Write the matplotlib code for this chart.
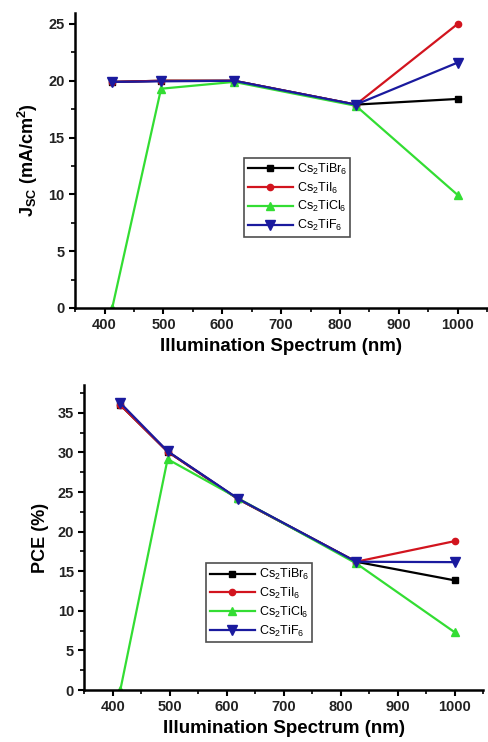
import matplotlib
matplotlib.use('Agg')
import matplotlib.pyplot as plt
from matplotlib.ticker import MultipleLocator

plt.rcParams['font.family'] = ['Liberation Sans', 'DejaVu Sans']
plt.rcParams['mathtext.fontset'] = 'custom'
plt.rcParams['mathtext.rm'] = 'Liberation Sans'
plt.rcParams['mathtext.bf'] = 'Liberation Sans:bold'

# wavelengths (nm)
wavelength = [413, 496, 620, 827, 1000]

labels = ['Cs$_2$TiBr$_6$', 'Cs$_2$TiI$_6$', 'Cs$_2$TiCl$_6$', 'Cs$_2$TiF$_6$']
colors = ['#000000', '#d2141e', '#33dd33', '#1a1a9e']
markers = ['s', 'o', '^', 'v']
msizes = [4.5, 4.5, 5.5, 6.5]

# Jsc (mA/cm2)
jsc_br = [19.9, 20.0, 20.0, 17.9, 18.4]
jsc_i = [19.9, 20.0, 20.0, 17.9, 25.0]
jsc_cl = [0.0, 19.3, 19.9, 17.8, 9.95]
jsc_f = [19.9, 19.95, 20.0, 17.9, 21.6]

# PCE (%)
pce_br = [36.0, 30.1, 24.1, 16.2, 13.85]
pce_i = [36.0, 30.1, 24.1, 16.2, 18.8]
pce_cl = [0.0, 29.15, 24.2, 16.0, 7.3]
pce_f = [36.25, 30.15, 24.15, 16.2, 16.15]

fig = plt.figure(figsize=(4.88, 7.42), dpi=100)
ax1 = fig.add_axes([0.154, 0.585, 0.844, 0.398])
ax2 = fig.add_axes([0.173, 0.070, 0.817, 0.411])


def style(ax, ylim, ylabel, leg_anchor):
    ax.set_xlim(350, 1050)
    ax.set_ylim(*ylim)
    ax.xaxis.set_major_locator(MultipleLocator(100))
    ax.xaxis.set_minor_locator(MultipleLocator(50))
    ax.yaxis.set_major_locator(MultipleLocator(5))
    ax.yaxis.set_minor_locator(MultipleLocator(2.5))
    for s in ['top', 'right']:
        ax.spines[s].set_visible(False)
    for s in ['left', 'bottom']:
        ax.spines[s].set_linewidth(1.8)
    ax.tick_params(which='major', direction='out', length=4, width=1.5,
                   labelsize=10.5)
    ax.tick_params(which='minor', direction='out', length=3, width=1.2)
    for t in ax.get_xticklabels() + ax.get_yticklabels():
        t.set_fontweight('bold')
        t.set_color('#222222')
    ax.set_xlabel('Illumination Spectrum (nm)', fontsize=13.5,
                  fontweight='bold', labelpad=4)
    ax.set_ylabel(ylabel, fontsize=13, fontweight='bold', labelpad=6)
    leg = ax.legend(loc='upper left', bbox_to_anchor=leg_anchor,
                    fontsize=9, frameon=True, fancybox=False,
                    edgecolor='#222222', handlelength=3.6, handletextpad=0.3,
                    borderpad=0.3, labelspacing=0.3, borderaxespad=0)
    leg.get_frame().set_linewidth(1.2)


series1 = [jsc_br, jsc_i, jsc_cl, jsc_f]
for y, lab, c, m, ms in zip(series1, labels, colors, markers, msizes):
    ax1.plot(wavelength, y, color=c, marker=m, markersize=ms, linewidth=1.6,
             label=lab)
style(ax1, (0, 26), r'J$_{\mathbf{SC}}$ (mA/cm$^{\mathbf{2}}$)', (0.41, 0.508))

series2 = [pce_br, pce_i, pce_cl, pce_f]
for y, lab, c, m, ms in zip(series2, labels, colors, markers, msizes):
    ax2.plot(wavelength, y, color=c, marker=m, markersize=ms, linewidth=1.6,
             label=lab)
style(ax2, (0, 38.5), 'PCE (%)', (0.305, 0.416))

fig.savefig('out.png', dpi=100)
